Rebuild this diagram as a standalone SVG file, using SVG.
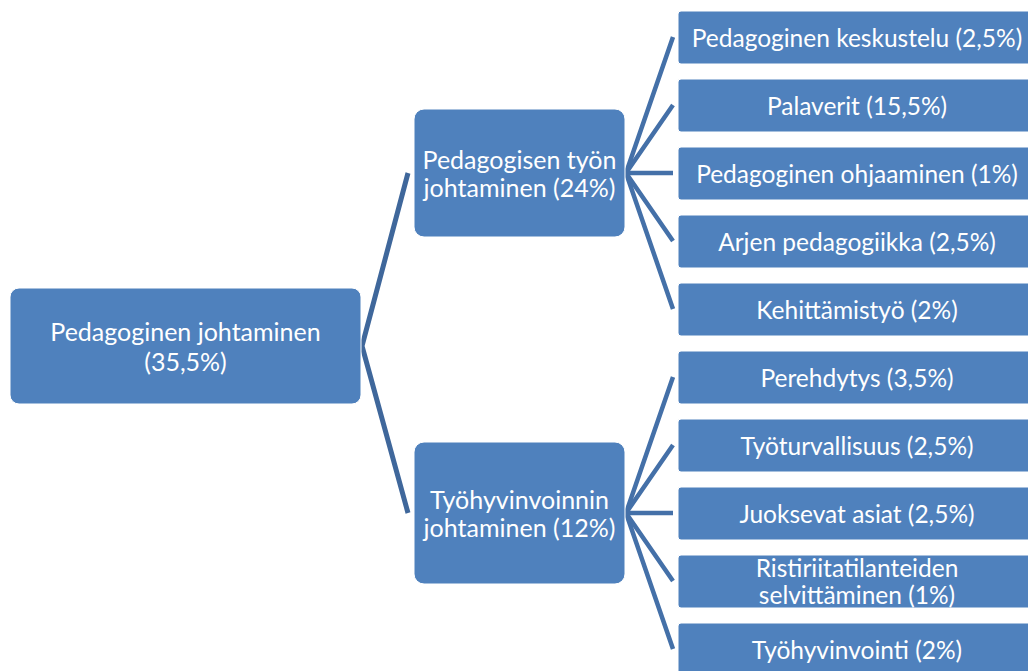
<svg xmlns="http://www.w3.org/2000/svg" width="1028" height="671" viewBox="0 0 1028 671">
<style>
.box{fill:#4F81BD;stroke:#ffffff;stroke-width:1}
.t{fill:#ffffff;font-family:Lato,"Liberation Sans",sans-serif;text-anchor:middle;dominant-baseline:central}
.tr{font-size:25px}
.tm{font-size:25px}
.tl{font-size:24.5px}
.c{fill:none;stroke:#4470A8;stroke-width:4.5;stroke-linejoin:miter;stroke-miterlimit:20}
</style>
<rect width="1028" height="671" fill="#ffffff"/>
<g id="connectors">
<path class="c" style="stroke:#3F679B;stroke-width:5" d="M408,173 L362,346 L408,513"/>
<path class="c" d="M673,37 L626,173 L673,309"/>
<path class="c" d="M673,105 L626,173 L673,241"/>
<path class="c" d="M626,173 L673,173"/>
<path class="c" d="M673,377 L626,513 L673,649"/>
<path class="c" d="M673,445 L626,513 L673,581"/>
<path class="c" d="M626,513 L673,513"/>
</g>
<g id="root">
<rect class="box" x="10" y="288" width="351" height="116" rx="9"/>
<text class="t tr" x="185.5" y="331">Pedagoginen johtaminen</text>
<text class="t tr" x="185.5" y="361">(35,5%)</text>
</g>
<g id="mid1">
<rect class="box" x="414" y="109" width="211" height="128" rx="10"/>
<text class="t tm" x="519.5" y="159">Pedagogisen työn</text>
<text class="t tm" x="519.5" y="187">johtaminen (24%)</text>
</g>
<g id="mid2">
<rect class="box" x="414" y="442" width="211" height="142" rx="10"/>
<text class="t tm" x="519.5" y="499">Työhyvinvoinnin</text>
<text class="t tm" x="519.5" y="527">johtaminen (12%)</text>
</g>
<g id="leaf1"><rect class="box" x="678" y="11" width="358" height="53" rx="3"/><text class="t tl" x="857" y="37.5">Pedagoginen keskustelu (2,5%)</text></g>
<g id="leaf2"><rect class="box" x="678" y="79" width="358" height="53" rx="3"/><text class="t tl" x="857" y="105.5">Palaverit (15,5%)</text></g>
<g id="leaf3"><rect class="box" x="678" y="147" width="358" height="53" rx="3"/><text class="t tl" x="857" y="173.5">Pedagoginen ohjaaminen (1%)</text></g>
<g id="leaf4"><rect class="box" x="678" y="215" width="358" height="53" rx="3"/><text class="t tl" x="857" y="241.5">Arjen pedagogiikka (2,5%)</text></g>
<g id="leaf5"><rect class="box" x="678" y="283" width="358" height="53" rx="3"/><text class="t tl" x="857" y="309.5">Kehittämistyö (2%)</text></g>
<g id="leaf6"><rect class="box" x="678" y="351" width="358" height="53" rx="3"/><text class="t tl" x="857" y="377.5">Perehdytys (3,5%)</text></g>
<g id="leaf7"><rect class="box" x="678" y="419" width="358" height="53" rx="3"/><text class="t tl" x="857" y="445.5">Työturvallisuus (2,5%)</text></g>
<g id="leaf8"><rect class="box" x="678" y="487" width="358" height="53" rx="3"/><text class="t tl" x="857" y="513.5">Juoksevat asiat (2,5%)</text></g>
<g id="leaf9"><rect class="box" x="678" y="555" width="358" height="53" rx="3"/><text class="t tl" x="857" y="567">Ristiriitatilanteiden</text><text class="t tl" x="857" y="594">selvittäminen (1%)</text></g>
<g id="leaf10"><rect class="box" x="678" y="623" width="358" height="53" rx="3"/><text class="t tl" x="857" y="649.5">Työhyvinvointi (2%)</text></g>
</svg>
